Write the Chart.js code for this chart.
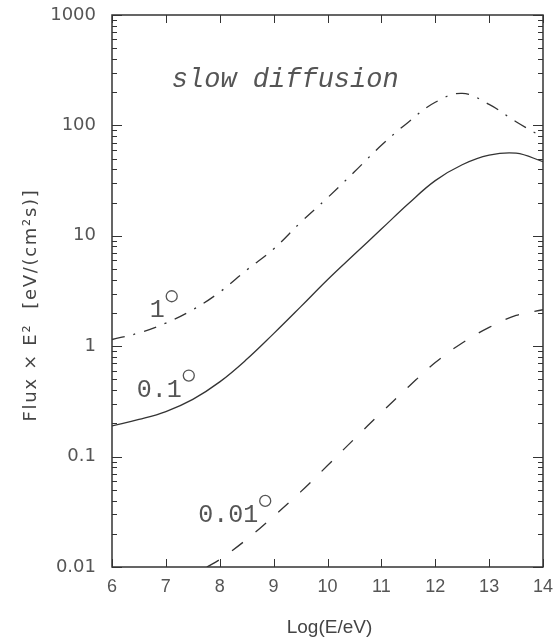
<!DOCTYPE html>
<html>
<head>
<meta charset="utf-8">
<script src="https://cdn.jsdelivr.net/npm/chart.js@4.4.0/dist/chart.umd.min.js"></script>
<style>
html, body { margin: 0; padding: 0; background: #fff; }
#wrap { width: 558px; height: 641px; position: relative; }
</style>
</head>
<body>
<div id="wrap"><canvas id="fluxChart"></canvas></div>
<script>
// Log(E/eV) grid for the two upper curves
const energy = [6, 6.5, 7, 7.5, 8, 8.5, 9, 9.5, 10, 10.5, 11, 11.5, 12, 12.5, 13, 13.5, 14];
// 1 degree (dash-dot)
const flux1deg = [1.15, 1.32, 1.62, 2.14, 3.09, 4.9, 7.6, 13.2, 22.1, 38, 66, 107, 162, 195, 155, 108, 78];
// 0.1 degree (solid)
const flux01deg = [0.19, 0.217, 0.256, 0.33, 0.475, 0.76, 1.3, 2.27, 4.0, 6.8, 11.5, 19.5, 31.6, 44, 53.7, 56, 47];
// 0.01 degree (dashed) - starts where it leaves the bottom of the frame
const energyLow = [7.76, 8, 8.5, 9, 9.5, 10, 10.5, 11, 11.5, 12, 12.5, 13, 13.5, 14];
const flux001deg = [0.01, 0.0117, 0.0178, 0.0288, 0.0479, 0.083, 0.145, 0.251, 0.427, 0.71, 1.07, 1.48, 1.9, 2.14];

const xTicks = [6, 7, 8, 9, 10, 11, 12, 13, 14];
const yTicks = [0.01, 0.1, 1, 10, 100, 1000];

// curve labels: text, anchor (Log E, flux)
const curveLabels = ['1', '0.1', '0.01'];
const curveLabelPos = [[6.70, 1.83], [6.46, 0.35], [7.60, 0.0256]];
const titleText = 'slow diffusion';
const titlePos = [7.11, 222];

const toPoints = (xs, ys) => xs.map((v, i) => ({x: v, y: ys[i]}));

// frame, inward ticks and text on the plot
const frameAndTicks = {
    id: 'frameAndTicks',
    afterDraw(chart) {
        const ctx = chart.ctx;
        const a = chart.chartArea;
        const x = chart.scales.x;
        const y = chart.scales.y;
        ctx.save();
        ctx.strokeStyle = '#333';
        ctx.lineWidth = 1.5;
        ctx.strokeRect(a.left, a.top, a.right - a.left, a.bottom - a.top);

        ctx.lineWidth = 1;
        ctx.beginPath();
        xTicks.forEach(v => {
            const px = Math.round(x.getPixelForValue(v)) + 0.5;
            ctx.moveTo(px, a.bottom); ctx.lineTo(px, a.bottom - 8);
            ctx.moveTo(px, a.top); ctx.lineTo(px, a.top + 8);
        });
        yTicks.forEach((d, i) => {
            for (let k = 1; k <= 9; k++) {
                if (i === yTicks.length - 1 && k > 1) break;
                const py = Math.round(y.getPixelForValue(d * k)) + 0.5;
                const len = k === 1 ? 10 : 5;
                ctx.moveTo(a.left, py); ctx.lineTo(a.left + len, py);
                ctx.moveTo(a.right, py); ctx.lineTo(a.right - len, py);
            }
        });
        ctx.stroke();

        // curve labels with degree circle
        ctx.fillStyle = '#555';
        ctx.strokeStyle = '#555';
        ctx.font = '25px "Liberation Mono"';
        ctx.textBaseline = 'alphabetic';
        ctx.textAlign = 'left';
        curveLabels.forEach((t, i) => {
            const px = x.getPixelForValue(curveLabelPos[i][0]);
            const py = y.getPixelForValue(curveLabelPos[i][1]);
            ctx.fillText(t, px, py);
            const w = ctx.measureText(t).width;
            ctx.beginPath();
            ctx.arc(px + w + 7, py - 21, 5.5, 0, Math.PI * 2);
            ctx.lineWidth = 1.3;
            ctx.stroke();
        });

        ctx.font = 'italic 27px "Liberation Mono"';
        ctx.fillText(titleText, x.getPixelForValue(titlePos[0]), y.getPixelForValue(titlePos[1]));

        // axis titles
        ctx.fillStyle = '#444';
        ctx.font = '19px "Liberation Sans"';
        ctx.textAlign = 'center';
        ctx.textBaseline = 'middle';
        ctx.fillText('Log(E/eV)', (a.left + a.right) / 2 + 2, 628);

        ctx.translate(31, 305);
        ctx.rotate(-Math.PI / 2);
        ctx.font = '18px "DejaVu Sans"';
        ctx.letterSpacing = '1.7px';
        ctx.fillText('Flux \u00d7 E\u00b2  [eV/(cm\u00b2s)]', 0, 0);
        ctx.restore();
    }
};

const fluxCtx = document.getElementById('fluxChart').getContext('2d');
const fluxChart = new Chart(fluxCtx, {
    type: 'line',
    data: {
        datasets: [{
            label: '1',
            data: toPoints(energy, flux1deg),
            borderColor: '#333',
            borderWidth: 1.3,
            borderDash: [13, 9, 2, 9],
            pointRadius: 0,
            tension: 0.4,
            fill: false
        }, {
            label: '0.1',
            data: toPoints(energy, flux01deg),
            borderColor: '#333',
            borderWidth: 1.3,
            pointRadius: 0,
            tension: 0.4,
            fill: false
        }, {
            label: '0.01',
            data: toPoints(energyLow, flux001deg),
            borderColor: '#333',
            borderWidth: 1.3,
            borderDash: [14, 16],
            pointRadius: 0,
            tension: 0.4,
            fill: false
        }]
    },
    options: {
        responsive: true,
        maintainAspectRatio: false,
        animation: false,
        events: [],
        layout: {
            padding: {top: 15, right: 15, left: 0, bottom: 0}
        },
        plugins: {
            legend: {display: false},
            tooltip: {enabled: false}
        },
        scales: {
            x: {
                type: 'linear',
                min: 6,
                max: 14,
                afterBuildTicks: s => { s.ticks = xTicks.map(v => ({value: v})); },
                afterFit: s => { s.height = 74; s.paddingLeft = 0; s.paddingRight = 0; },
                grid: {display: false, drawTicks: false},
                border: {display: false},
                ticks: {
                    color: '#555',
                    padding: 9,
                    font: {family: 'Liberation Sans', size: 18},
                    maxRotation: 0
                }
            },
            y: {
                type: 'logarithmic',
                min: 0.01,
                max: 1000,
                afterBuildTicks: s => { s.ticks = yTicks.map(v => ({value: v})); },
                afterFit: s => { s.width = 112; s.paddingTop = 0; s.paddingBottom = 0; },
                grid: {display: false, drawTicks: false},
                border: {display: false},
                ticks: {
                    color: '#555',
                    padding: 16,
                    font: {family: 'DejaVu Sans', size: 18},
                    callback: v => String(v)
                }
            }
        }
    },
    plugins: [frameAndTicks]
});
</script>
</body>
</html>
